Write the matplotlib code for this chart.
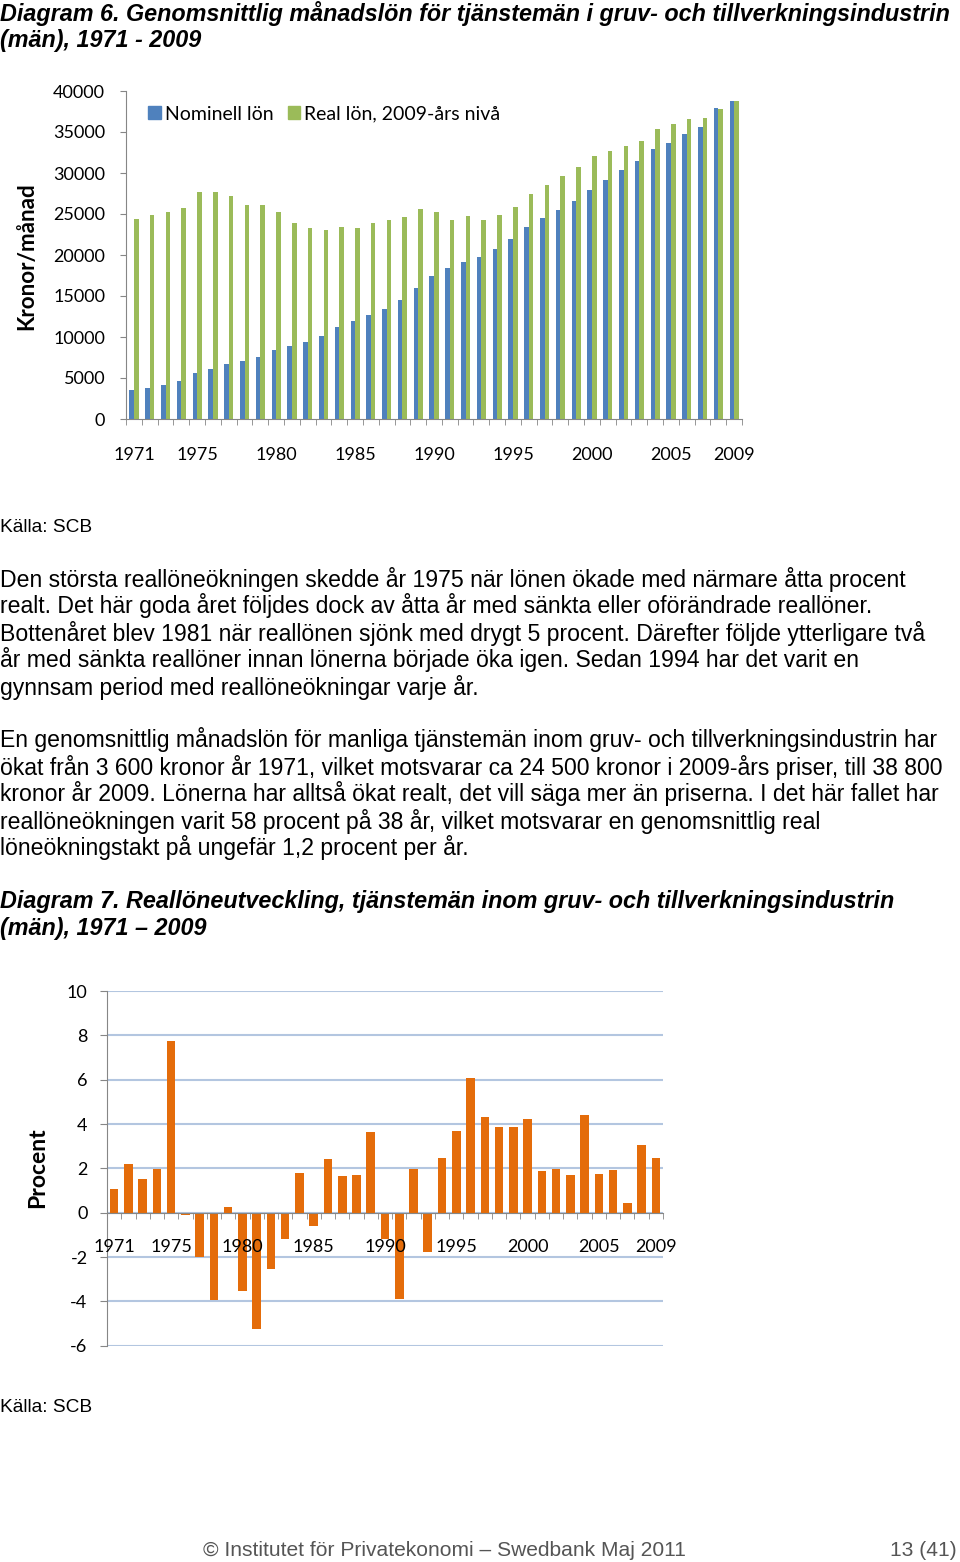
import numpy as np
import matplotlib
matplotlib.use("Agg")
import matplotlib.pyplot as plt
from matplotlib.patches import Patch

plt.rcParams["axes.unicode_minus"] = False

# ---- data ----
years = list(range(1971, 2010))
nominell = [3540, 3820, 4190, 4670, 5570, 6100, 6700, 7110, 7600, 8370,
            8900, 9430, 10160, 11180, 11950, 12720, 13460, 14500, 16000,
            17480, 18370, 19190, 19760, 20690, 21990, 23410, 24550, 25450,
            26540, 27970, 29150, 30370, 31500, 32970, 33700, 34760, 35650,
            37970, 38740]
real = [24350, 24880, 25240, 25730, 27680, 27680, 27150, 26100, 26140, 25200,
        23900, 23330, 23050, 23460, 23290, 23860, 24270, 24670, 25570,
        25240, 24270, 24760, 24270, 24920, 25810, 27400, 28580, 29630,
        30770, 32070, 32680, 33290, 33860, 35330, 35940, 36590, 36710,
        37800, 38740]
reallon_procent = [1.05, 2.2, 1.53, 1.97, 7.76, -0.12, -1.98, -3.94, 0.24, -3.53,
                   -5.25, -2.53, -1.2, 1.8, -0.6, 2.4, 1.67, 1.7, 3.65,
                   -1.2, -3.9, 1.98, -1.76, 2.48, 3.7, 6.09, 4.32, 3.85,
                   3.88, 4.24, 1.86, 1.95, 1.71, 4.42, 1.73, 1.94, 0.42,
                   3.07, 2.45]
label_years = [1971, 1975, 1980, 1985, 1990, 1995, 2000, 2005, 2009]

title1 = ["Diagram 6. Genomsnittlig månadslön för tjänstemän i gruv- och tillverkningsindustrin",
          "(män), 1971 - 2009"]
title2 = ["Diagram 7. Reallöneutveckling, tjänstemän inom gruv- och tillverkningsindustrin",
          "(män), 1971 – 2009"]
para1 = ["Den största reallöneökningen skedde år 1975 när lönen ökade med närmare åtta procent",
         "realt. Det här goda året följdes dock av åtta år med sänkta eller oförändrade reallöner.",
         "Bottenåret blev 1981 när reallönen sjönk med drygt 5 procent. Därefter följde ytterligare två",
         "år med sänkta reallöner innan lönerna började öka igen. Sedan 1994 har det varit en",
         "gynnsam period med reallöneökningar varje år."]
para2 = ["En genomsnittlig månadslön för manliga tjänstemän inom gruv- och tillverkningsindustrin har",
         "ökat från 3 600 kronor år 1971, vilket motsvarar ca 24 500 kronor i 2009-års priser, till 38 800",
         "kronor år 2009. Lönerna har alltså ökat realt, det vill säga mer än priserna. I det här fallet har",
         "reallöneökningen varit 58 procent på 38 år, vilket motsvarar en genomsnittlig real",
         "löneökningstakt på ungefär 1,2 procent per år."]

W, H = 960, 1562
BLUE = "#4F81BD"
GREEN = "#9BBB59"
ORANGE = "#E46C0A"
AXGRAY = "#868686"
GRID = "#B3C6E0"
CHARTFONT = "Lato"
DOCFONT = "Liberation Sans"

fig = plt.figure(figsize=(W / 100, H / 100), dpi=100)


def ftxt(x, y, s, **kw):
    # x, y in page pixels (y from the top)
    kw.setdefault("va", "center")
    kw.setdefault("family", DOCFONT)
    return fig.text(x / W, 1 - y / H, s, **kw)


def pix_axes(left, top, right, bottom):
    return fig.add_axes([left / W, 1 - bottom / H, (right - left) / W, (bottom - top) / H])


# ---- titles and body text ----
for i, line in enumerate(title1):
    ftxt(0, 13 + 27 * i, line, fontsize=16.8, fontweight="bold", style="italic")
for i, line in enumerate(title2):
    ftxt(0, 901 + 27 * i, line, fontsize=16.8, fontweight="bold", style="italic")
for i, line in enumerate(para1):
    ftxt(0, 579 + 27 * i, line, fontsize=16.6)
for i, line in enumerate(para2):
    ftxt(0, 740 + 27 * i, line, fontsize=16.6)
ftxt(0, 528, "Källa: SCB", fontsize=13.8)
ftxt(0, 1408, "Källa: SCB", fontsize=13.8)
ftxt(203, 1550, "© Institutet för Privatekonomi – Swedbank Maj 2011", fontsize=15.1, color="#555555")
ftxt(957, 1550, "13 (41)", fontsize=15.1, color="#555555", ha="right")

x = np.arange(len(years))
label_idx = [years.index(y) for y in label_years]

# ---- Diagram 6 ----
ax1 = pix_axes(126, 91, 742, 419)
ax1.bar(x - 0.14, nominell, 0.29, color=BLUE)
ax1.bar(x + 0.15, real, 0.29, color=GREEN)
ax1.set_xlim(-0.5, len(years) - 0.5)
ax1.set_ylim(0, 40000)
ax1.set_yticks(range(0, 40001, 5000))
ax1.set_xticks(label_idx)
ax1.set_xticklabels([str(y) for y in label_years])
ax1.set_xticks(np.arange(-0.5, len(years), 1), minor=True)
for s in ["top", "right"]:
    ax1.spines[s].set_visible(False)
for s in ["left", "bottom"]:
    ax1.spines[s].set_color(AXGRAY)
ax1.tick_params(axis="y", length=4, color=AXGRAY, pad=11, labelsize=13)
ax1.tick_params(axis="x", which="major", length=0, pad=20, labelsize=13)
ax1.tick_params(axis="x", which="minor", length=4, color=AXGRAY)
for lab in ax1.get_xticklabels() + ax1.get_yticklabels():
    lab.set_family(CHARTFONT)
ax1.legend(handles=[Patch(color=BLUE, label="Nominell lön"),
                    Patch(color=GREEN, label="Real lön, 2009-års nivå")],
           loc="upper left", bbox_to_anchor=(0.02, 0.985), ncol=2, frameon=False,
           handlelength=0.65, handleheight=0.65, handletextpad=0.2, columnspacing=0.75,
           borderpad=0, prop={"family": CHARTFONT, "size": 14})
ftxt(27, 256, "Kronor/månad", rotation=90, ha="center", fontsize=16.2,
     fontweight="bold", family=CHARTFONT)

# ---- Diagram 7 ----
ax2 = pix_axes(107, 991, 663, 1345.7)
ax2.bar(x, reallon_procent, 0.6, color=ORANGE, zorder=3)
ax2.set_xlim(-0.5, len(years) - 0.5)
ax2.set_ylim(-6, 10)
ax2.set_yticks(range(-6, 11, 2))
ax2.grid(axis="y", color=GRID, linewidth=1.5, zorder=0)
ax2.set_xticks(label_idx)
ax2.set_xticklabels([str(y) for y in label_years])
ax2.set_xticks(np.arange(-0.5, len(years), 1), minor=True)
ax2.spines["bottom"].set_position(("data", 0))
ax2.spines["bottom"].set_zorder(4)
ax2.xaxis.set_zorder(5)
for s in ["top", "right"]:
    ax2.spines[s].set_visible(False)
for s in ["left", "bottom"]:
    ax2.spines[s].set_color(AXGRAY)
ax2.tick_params(axis="y", length=5, color=AXGRAY, pad=9, labelsize=13)
ax2.tick_params(axis="x", which="major", length=0, pad=19, labelsize=13)
ax2.tick_params(axis="x", which="minor", length=4, color=AXGRAY)
for lab in ax2.get_xticklabels() + ax2.get_yticklabels():
    lab.set_family(CHARTFONT)
ftxt(38, 1168, "Procent", rotation=90, ha="center", fontsize=16.5,
     fontweight="bold", family=CHARTFONT)

fig.savefig("out.png", dpi=100)
